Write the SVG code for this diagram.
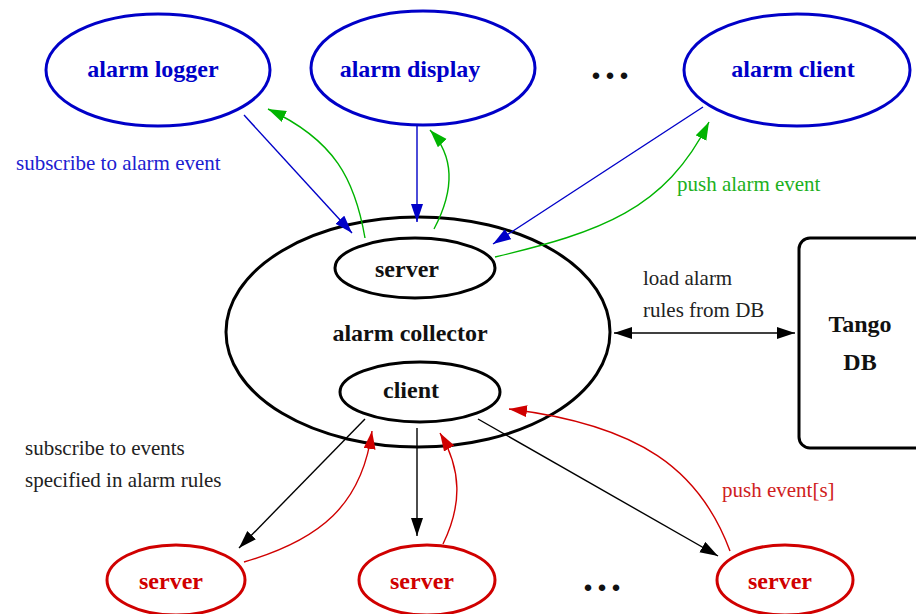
<svg xmlns="http://www.w3.org/2000/svg" width="916" height="614" viewBox="0 0 916 614">
<style>
.node{fill:#fff;stroke-width:3}
.blue{stroke:#0000c8}
.blk{stroke:#000}
.red{stroke:#d00000}
.nt{font-family:"Liberation Serif",serif;font-weight:bold;font-size:24px;text-anchor:middle}
.dots{font-family:"Liberation Serif",serif;font-weight:bold;font-size:40px;letter-spacing:4px;text-anchor:middle}
.lt{font-family:"Liberation Serif",serif;font-size:21px}
.e{fill:none;stroke-width:1.4}
</style>
<defs>
<marker id="ab" markerUnits="userSpaceOnUse" markerWidth="20" markerHeight="14" refX="18" refY="6" orient="auto"><path d="M0,0 L18,6 L0,12 Z" fill="#0000c8"/></marker>
<marker id="ag" markerUnits="userSpaceOnUse" markerWidth="20" markerHeight="14" refX="18" refY="6" orient="auto"><path d="M0,0 L18,6 L0,12 Z" fill="#00b400"/></marker>
<marker id="ak" markerUnits="userSpaceOnUse" markerWidth="20" markerHeight="14" refX="18" refY="6" orient="auto"><path d="M0,0 L18,6 L0,12 Z" fill="#000"/></marker>
<marker id="aks" markerUnits="userSpaceOnUse" markerWidth="20" markerHeight="14" refX="18" refY="6" orient="auto-start-reverse"><path d="M0,0 L18,6 L0,12 Z" fill="#000"/></marker>
<marker id="ar" markerUnits="userSpaceOnUse" markerWidth="20" markerHeight="14" refX="18" refY="6" orient="auto"><path d="M0,0 L18,6 L0,12 Z" fill="#d00000"/></marker>
</defs>
<rect width="916" height="614" fill="#fff"/>

<g id="collector">
<ellipse class="node blk" cx="418" cy="332" rx="192" ry="115"/>
<text class="nt" x="410" y="341" fill="#111">alarm collector</text>
</g>
<g id="collector-server">
<ellipse class="node blk" cx="415" cy="268" rx="80" ry="30"/>
<text class="nt" x="407" y="277" fill="#111">server</text>
</g>
<g id="collector-client">
<ellipse class="node blk" cx="420" cy="392" rx="80" ry="30"/>
<text class="nt" x="411" y="398" fill="#111">client</text>
</g>

<g id="alarm-logger">
<ellipse class="node blue" cx="158" cy="70" rx="112" ry="56"/>
<text class="nt" x="153" y="77" fill="#0000c8">alarm logger</text>
</g>
<g id="alarm-display">
<ellipse class="node blue" cx="423" cy="68" rx="112" ry="57"/>
<text class="nt" x="410" y="77" fill="#0000c8">alarm display</text>
</g>
<g id="alarm-client">
<ellipse class="node blue" cx="797" cy="70" rx="113" ry="56"/>
<text class="nt" x="793" y="77" fill="#0000c8">alarm client</text>
</g>
<g id="dots-top"><text class="dots" x="612" y="79" fill="#111">...</text></g>

<g id="tango-db">
<rect x="799" y="238" width="140" height="210" rx="11" fill="#fff" stroke="#000" stroke-width="3"/>
<text class="nt" x="860" y="332" fill="#111">Tango</text>
<text class="nt" x="860" y="370" fill="#111">DB</text>
</g>

<g id="server1">
<ellipse class="node red" cx="176" cy="580" rx="69" ry="35"/>
<text class="nt" x="171" y="589" fill="#d00000">server</text>
</g>
<g id="server2">
<ellipse class="node red" cx="427" cy="580" rx="68" ry="35"/>
<text class="nt" x="422" y="589" fill="#d00000">server</text>
</g>
<g id="server3">
<ellipse class="node red" cx="785" cy="580" rx="68" ry="35"/>
<text class="nt" x="780" y="589" fill="#d00000">server</text>
</g>
<g id="dots-bottom"><text class="dots" x="604" y="591" fill="#111">...</text></g>

<g id="connectors">
<line class="e" x1="244" y1="115" x2="352" y2="233" stroke="#0000c8" marker-end="url(#ab)"/>
<line class="e" x1="417" y1="124" x2="417" y2="222" stroke="#0000c8" marker-end="url(#ab)"/>
<line class="e" x1="703" y1="107" x2="493" y2="244" stroke="#0000c8" marker-end="url(#ab)"/>

<path class="e" d="M365,238 C355,180 335,140 268,109" stroke="#00b400" marker-end="url(#ag)"/>
<path class="e" d="M434,229 C452,195 458,160 430,130" stroke="#00b400" marker-end="url(#ag)"/>
<path class="e" d="M495,257 C600,232 665,210 709,122" stroke="#00b400" marker-end="url(#ag)"/>

<line class="e" x1="614" y1="333" x2="795" y2="333" stroke="#000" marker-start="url(#aks)" marker-end="url(#ak)"/>

<line class="e" x1="365" y1="419" x2="239" y2="548" stroke="#000" marker-end="url(#ak)"/>
<line class="e" x1="417" y1="428" x2="417" y2="536" stroke="#000" marker-end="url(#ak)"/>
<line class="e" x1="478" y1="419" x2="718" y2="556" stroke="#000" marker-end="url(#ak)"/>

<path class="e" d="M244,562 C320,540 362,505 372,431" stroke="#d00000" marker-end="url(#ar)"/>
<path class="e" d="M443,544 C462,505 462,470 440,433" stroke="#d00000" marker-end="url(#ar)"/>
<path class="e" d="M730,551 C700,470 640,425 509,409" stroke="#d00000" marker-end="url(#ar)"/>
</g>

<g id="labels">
<text class="lt" x="16" y="170" fill="#2020d0">subscribe to alarm event</text>
<text class="lt" x="677" y="191" fill="#20b020">push alarm event</text>
<text class="lt" x="643" y="285" fill="#222">load alarm</text>
<text class="lt" x="643" y="317" fill="#222">rules from DB</text>
<text class="lt" x="25" y="455" fill="#222">subscribe to events</text>
<text class="lt" x="25" y="487" fill="#222">specified in alarm rules</text>
<text class="lt" x="722" y="497" fill="#d02020">push event[s]</text>
</g>
</svg>
